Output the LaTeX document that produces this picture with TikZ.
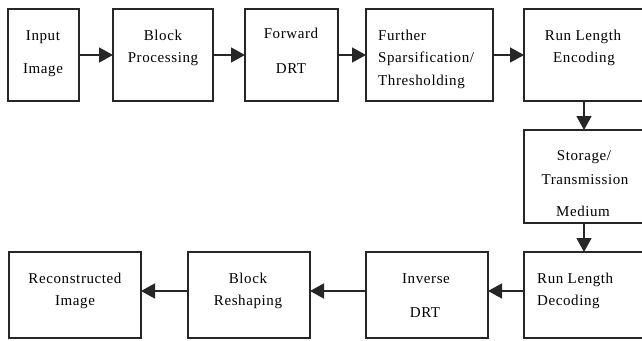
\documentclass[tikz,border=0pt]{standalone}
\usepackage{fontspec}
\setmainfont{Liberation Serif}[LetterSpace=4]
\usetikzlibrary{arrows.meta}
\tikzset{
  box/.style={draw=black!85, line width=1.6pt, inner sep=0pt, outer sep=0pt, anchor=north west},
  arr/.style={draw=black!85, line width=1.6pt, -{Triangle[length=14pt,width=15pt]}},
  txt/.style={inner sep=0pt, font=\fontsize{15}{18}\selectfont, anchor=base},
  txtl/.style={txt, anchor=base west}
}
\begin{document}
\begin{tikzpicture}[x=1pt,y=-1pt]
\useasboundingbox (0,0) rectangle (642,340);
\clip (0,0) rectangle (642,340);
% boxes
\node[box, minimum width=71pt, minimum height=92pt] (in) at (8,9) {};
\node[box, minimum width=100pt, minimum height=92pt] (bp) at (113,9) {};
\node[box, minimum width=93pt, minimum height=92pt] (fd) at (245,9) {};
\node[box, minimum width=127pt, minimum height=92pt] (fs) at (366,9) {};
\node[box, minimum width=136pt, minimum height=92pt] (rle) at (524,9) {};
\node[box, minimum width=136pt, minimum height=93pt] (st) at (524,130) {};
\node[box, minimum width=136pt, minimum height=86pt] (rld) at (524,252) {};
\node[box, minimum width=122pt, minimum height=86pt] (inv) at (366,252) {};
\node[box, minimum width=122pt, minimum height=86pt] (brs) at (188,252) {};
\node[box, minimum width=132pt, minimum height=86pt] (rec) at (9,252) {};
% texts
\node[txt] (t1a) at (43,40) {Input};
\node[txt] (t1b) at (43,73) {Image};
\node[txt] (t2a) at (163,40) {Block};
\node[txt] (t2b) at (163,62) {Processing};
\node[txt] (t3a) at (291,38) {Forward};
\node[txt] (t3b) at (291,73) {DRT};
\node[txtl] (t4a) at (378,40) {Further};
\node[txtl] (t4b) at (378,62) {Sparsification/};
\node[txtl] (t4c) at (378,85) {Thresholding};
\node[txt] (t5a) at (583,40) {Run Length};
\node[txt] (t5b) at (584,62) {Encoding};
\node[txt] (t6a) at (584,160) {Storage/};
\node[txt] (t6b) at (585,184) {Transmission};
\node[txt] (t6c) at (583,216) {Medium};
\node[txtl] (t7a) at (537,283) {Run Length};
\node[txtl] (t7b) at (537,305) {Decoding};
\node[txt] (t8a) at (426,283) {Inverse};
\node[txt] (t8b) at (425,317) {DRT};
\node[txt] (t9a) at (248,283) {Block};
\node[txt] (t9b) at (248,305) {Reshaping};
\node[txt] (t10a) at (75,283) {Reconstructed};
\node[txt] (t10b) at (75,305) {Image};
% connectors
\draw[arr] (in.east) -- (bp.west);
\draw[arr] (bp.east) -- (fd.west);
\draw[arr] (fd.east) -- (fs.west);
\draw[arr] (fs.east) -- (rle.west);
\draw[arr] ([xshift=-8pt]rle.south) -- ([xshift=-8pt]st.north);
\draw[arr] ([xshift=-8pt]st.south) -- ([xshift=-8pt]rld.north);
\draw[arr] ([yshift=4pt]rld.west) -- ([yshift=4pt]inv.east);
\draw[arr] ([yshift=4pt]inv.west) -- ([yshift=4pt]brs.east);
\draw[arr] ([yshift=4pt]brs.west) -- ([yshift=4pt]rec.east);
\end{tikzpicture}
\end{document}
